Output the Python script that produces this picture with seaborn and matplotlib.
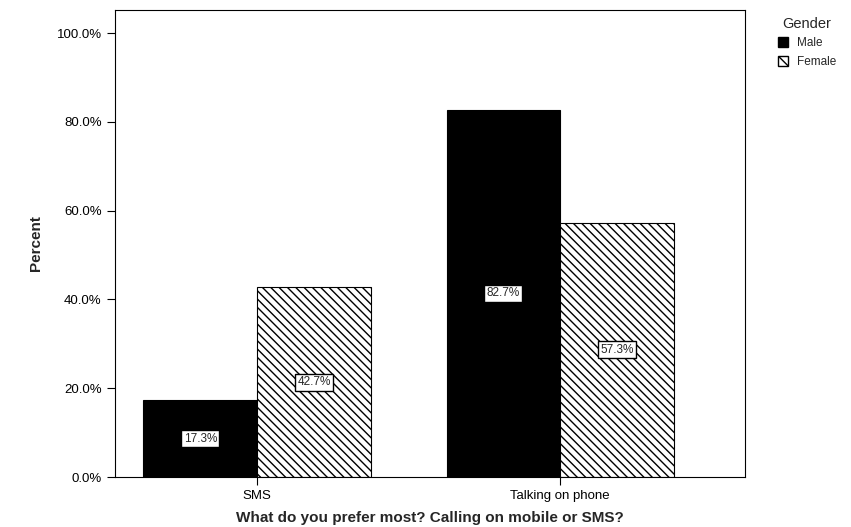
import matplotlib
matplotlib.use("Agg")
import matplotlib.pyplot as plt
import seaborn as sns
import pandas as pd
from matplotlib.patches import Patch

categories = ["SMS", "Talking on phone"]
genders = ["Male", "Female"]
male_pct = [17.3, 82.7]
female_pct = [42.7, 57.3]

df = pd.DataFrame({
    "choice": categories * 2,
    "Gender": ["Male"] * 2 + ["Female"] * 2,
    "pct": male_pct + female_pct,
})

sns.set_style("white")
plt.rcParams["font.family"] = ["Liberation Sans", "DejaVu Sans"]

fig = plt.figure(figsize=(8.51, 5.27), dpi=100)
ax = fig.add_axes([115 / 851, 50 / 527, 630 / 851, 467 / 527])

sns.barplot(data=df, x="choice", y="pct", hue="Gender", hue_order=genders,
            palette=["black", "white"], width=0.75, saturation=1,
            edgecolor="black", linewidth=0.8, ax=ax, legend=False)

hatch = "\\\\\\\\"
for bar in ax.containers[1]:
    bar.set_hatch(hatch)

for cont in ax.containers:
    ax.bar_label(cont, labels=[f"{v:.1f}%" for v in cont.datavalues],
                 label_type="center", fontsize=8.5,
                 bbox=dict(boxstyle="square,pad=0.2", fc="white", ec="black", lw=1.0))

ax.set_xlim(-0.469, 1.61)
ax.set_ylim(0, 105.2)
ax.set_yticks([0, 20, 40, 60, 80, 100])
ax.set_yticklabels([f"{t:.1f}%" for t in [0, 20, 40, 60, 80, 100]])
ax.tick_params(axis="both", direction="out", length=6, width=0.8, labelsize=9.5,
               left=True, bottom=True, colors="black")
for s in ax.spines.values():
    s.set_color("black")
    s.set_linewidth(0.8)

ax.set_xlabel("What do you prefer most? Calling on mobile or SMS?",
              fontsize=11, fontweight="bold", labelpad=6)
ax.set_ylabel("Percent", fontsize=11, fontweight="bold", labelpad=10,
              fontstretch="condensed")

handles = [Patch(facecolor="black", edgecolor="black", label="Male"),
           Patch(facecolor="white", edgecolor="black", hatch="\\\\\\", label="Female")]
fig.legend(handles=handles, title="Gender", loc="upper left",
           bbox_to_anchor=(773 / 851, 1 - 12 / 527), frameon=False,
           fontsize=8.5, title_fontsize=10.5, handlelength=0.9, handleheight=0.9,
           handletextpad=0.7, labelspacing=0.55, borderaxespad=0)

fig.savefig("out.png", dpi=100)
